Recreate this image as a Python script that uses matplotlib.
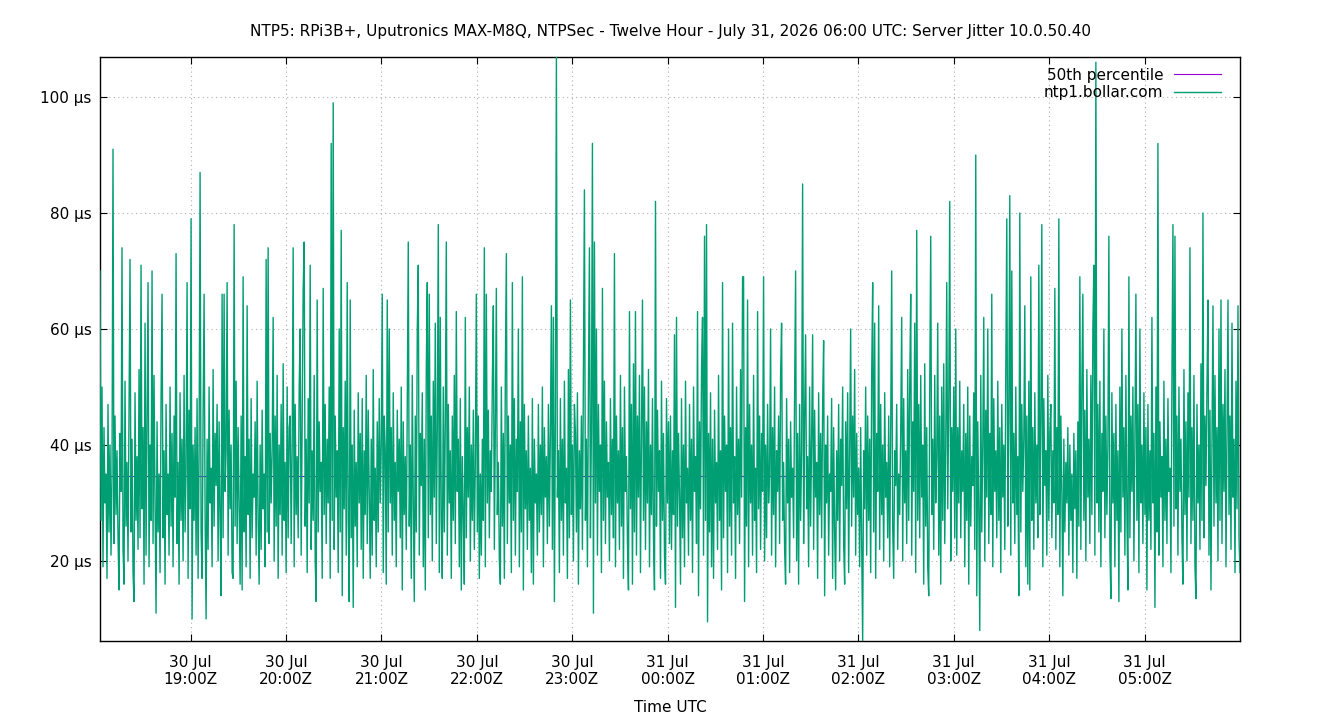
import pandas as pd
import matplotlib
matplotlib.use('Agg')
import matplotlib.pyplot as plt
import matplotlib.dates as mdates

# jitter values (µs), one list per hour of the window
h18 = [70, 27, 50, 19, 43, 30, 35, 17, 47, 25, 40, 21, 35, 91, 23, 45, 28, 39, 24, 15,
       42, 32, 74, 22, 16, 51, 26, 37, 20, 46, 72, 25, 41, 18, 13, 49, 27, 38, 22, 53,
       24, 71, 29, 43, 16, 61, 21, 45, 68, 19, 40, 27, 70, 23, 52, 30, 11, 44, 25, 35,
       18, 48, 66, 24, 39, 16, 47, 28, 35, 21, 50, 26, 42, 19, 45, 31, 73, 23, 37, 16,
       49, 27, 41, 20, 52, 25, 36, 68, 17, 46, 29, 79, 10, 40, 27]
h19 = [43, 21, 48, 17, 39, 87, 25, 17, 45, 66, 28, 10, 41, 22, 50, 30, 36, 19, 53, 26,
       42, 33, 47, 20, 44, 27, 14, 66, 24, 66, 32, 39, 68, 21, 46, 29, 40, 18, 17, 78,
       26, 51, 23, 43, 30, 16, 45, 15, 69, 25, 38, 19, 64, 28, 41, 17, 48, 24, 35, 31,
       44, 21, 51, 27, 16, 40, 22, 46, 29, 35, 19, 72, 25, 74, 23, 42, 30, 39, 62, 20,
       45, 26, 52, 17, 40, 28, 47, 21, 54, 27, 37, 18, 50, 24, 43]
h20 = [45, 23, 40, 74, 19, 47, 28, 38, 24, 50, 60, 21, 43, 67, 75, 26, 41, 18, 48, 30,
       71, 22, 39, 27, 52, 20, 13, 65, 25, 44, 32, 37, 17, 67, 28, 47, 23, 41, 30, 50,
       17, 92, 27, 99, 22, 45, 31, 39, 18, 60, 25, 77, 14, 43, 29, 51, 21, 68, 27, 13,
       65, 24, 40, 12, 46, 26, 37, 19, 49, 30, 42, 22, 48, 17, 39, 28, 52, 23, 46, 32,
       17, 41, 21, 53, 27, 36, 19, 44, 25, 48, 30, 40, 66, 18, 45]
h21 = [39, 16, 65, 25, 60, 30, 43, 21, 49, 27, 37, 19, 46, 32, 41, 24, 50, 15, 44, 28,
       38, 22, 47, 75, 26, 40, 17, 52, 30, 13, 45, 25, 60, 71, 21, 42, 33, 49, 19, 41,
       15, 53, 68, 24, 66, 28, 45, 20, 51, 31, 61, 23, 43, 78, 18, 62, 27, 17, 50, 25,
       44, 75, 21, 47, 30, 39, 17, 45, 27, 52, 23, 63, 32, 41, 19, 48, 15, 38, 28, 16,
       62, 24, 43, 31, 50, 20, 40, 27, 46, 22, 37, 66, 25, 45, 17]
h22 = [35, 21, 41, 27, 74, 19, 66, 30, 46, 24, 39, 32, 51, 64, 22, 43, 67, 28, 37, 20,
       16, 50, 26, 42, 17, 53, 73, 23, 45, 30, 40, 18, 68, 27, 48, 21, 41, 32, 60, 19,
       44, 25, 69, 15, 47, 29, 39, 22, 45, 27, 36, 18, 48, 16, 41, 30, 35, 21, 47, 25,
       40, 28, 50, 19, 43, 31, 38, 23, 47, 26, 42, 64, 22, 62, 13, 45, 107, 31, 39, 18,
       48, 27, 41, 21, 51, 30, 36, 17, 53, 24, 65, 28, 40, 20, 47]
h23 = [42, 25, 49, 16, 39, 29, 45, 22, 53, 84, 27, 41, 19, 50, 74, 24, 43, 92, 11, 75,
       30, 60, 21, 47, 32, 40, 18, 67, 27, 51, 23, 44, 31, 37, 20, 48, 28, 41, 24, 73,
       19, 45, 30, 39, 22, 52, 26, 43, 17, 50, 32, 38, 23, 15, 63, 29, 47, 16, 54, 25,
       63, 21, 45, 31, 52, 18, 41, 65, 27, 50, 22, 44, 30, 53, 19, 40, 28, 48, 24, 15,
       82, 26, 46, 32, 39, 17, 51, 27, 42, 21, 16, 48, 30, 44, 23]
h00 = [45, 22, 39, 28, 59, 12, 62, 26, 42, 31, 16, 48, 24, 40, 19, 51, 30, 36, 21, 47,
       27, 41, 18, 50, 32, 38, 23, 63, 14, 44, 29, 53, 62, 21, 76, 27, 78, 9.5, 42, 25,
       49, 19, 41, 17, 46, 30, 37, 22, 52, 27, 39, 15, 68, 24, 45, 32, 40, 18, 60, 26,
       43, 21, 61, 30, 38, 17, 50, 28, 41, 23, 53, 31, 69, 69, 13, 43, 26, 65, 19, 47,
       30, 40, 21, 52, 27, 36, 18, 63, 29, 45, 22, 42, 32, 69, 20]
h01 = [40, 24, 47, 30, 35, 60, 21, 43, 28, 50, 19, 39, 32, 45, 23, 52, 61, 27, 37, 22,
       16, 48, 30, 41, 18, 44, 31, 36, 24, 49, 70, 20, 42, 16, 47, 27, 39, 85, 23, 45,
       59, 29, 38, 19, 50, 26, 41, 59, 22, 46, 31, 37, 17, 49, 28, 42, 24, 47, 58, 14,
       40, 30, 45, 21, 35, 32, 48, 17, 43, 25, 15, 39, 27, 47, 20, 41, 33, 50, 23, 16,
       44, 29, 49, 18, 40, 60, 26, 45, 31, 53, 21, 42, 28, 36, 19]
h02 = [43, 23, 6, 39, 29, 50, 21, 45, 27, 41, 18, 52, 68, 25, 61, 17, 42, 32, 64, 22,
       47, 28, 40, 20, 49, 31, 37, 24, 45, 19, 43, 70, 26, 17, 39, 33, 47, 22, 35, 28,
       42, 62, 20, 48, 30, 39, 23, 53, 27, 50, 66, 21, 44, 32, 61, 18, 77, 27, 47, 24,
       52, 31, 40, 16, 54, 26, 43, 19, 14, 49, 76, 28, 41, 22, 52, 30, 38, 61, 21, 45,
       16, 50, 27, 54, 23, 40, 68, 29, 47, 82, 20, 43, 32, 50, 24]
h03 = [60, 21, 43, 30, 51, 24, 39, 32, 47, 19, 42, 27, 50, 16, 45, 26, 38, 33, 49, 22,
       90, 14, 44, 29, 8, 52, 25, 40, 62, 20, 46, 31, 60, 23, 42, 28, 66, 19, 48, 32,
       39, 24, 51, 27, 43, 18, 47, 31, 40, 22, 53, 79, 26, 45, 83, 21, 70, 30, 42, 23,
       50, 28, 38, 14, 80, 25, 47, 32, 41, 64, 19, 45, 16, 51, 15, 69, 27, 43, 22, 49,
       30, 40, 24, 71, 28, 44, 78, 19, 48, 33, 39, 21, 52, 27, 42]
h04 = [47, 24, 39, 30, 67, 22, 43, 28, 79, 19, 45, 32, 14, 41, 25, 37, 30, 43, 21, 40,
       27, 35, 18, 42, 29, 39, 17, 44, 26, 69, 22, 50, 66, 27, 46, 20, 53, 31, 41, 23,
       52, 28, 60, 71, 21, 106, 30, 47, 25, 51, 19, 42, 32, 60, 24, 45, 28, 40, 76, 22,
       13.5, 49, 30, 42, 19, 47, 27, 39, 13, 50, 25, 60, 31, 43, 21, 52, 28, 15, 69, 24,
       45, 32, 50, 20, 41, 66, 27, 47, 18, 60, 30, 40, 23, 49, 28]
h05 = [43, 15, 47, 27, 39, 22, 62, 30, 42, 12, 50, 25, 92, 21, 44, 31, 38, 19, 51, 27,
       41, 23, 48, 32, 36, 18, 52, 78, 26, 76, 29, 45, 21, 50, 32, 41, 24, 16, 53, 28,
       44, 20, 49, 31, 74, 23, 43, 27, 52, 19, 13.5, 47, 30, 40, 22, 54, 27, 80, 24, 45,
       33, 50, 65, 21, 46, 15, 41, 64, 26, 52, 30, 43, 20, 60, 27, 65, 23, 47, 32, 53,
       19, 42, 65, 28, 45, 22, 61, 31, 41, 18, 51, 29, 64, 24, 18]

jitter = h18 + h19 + h20 + h21 + h22 + h23 + h00 + h01 + h02 + h03 + h04 + h05
median_us = 34.6

start = pd.Timestamp('2026-07-30 18:03')
end = pd.Timestamp('2026-07-31 06:00')
times = pd.date_range(start, end, periods=len(jitter))
hour_ticks = pd.date_range('2026-07-30 19:00', '2026-07-31 05:00', freq='h')

ytick_vals = [20, 40, 60, 80, 100]
ytick_labels = ['20 µs', '40 µs', '60 µs', '80 µs', '100 µs']

fig = plt.figure(figsize=(13.4, 7.2), dpi=100)
ax = fig.add_axes([100/1340, 1 - 641/720, 1140/1340, 584/720])

l_med, = ax.plot([start, end], [median_us, median_us], color='#9400d3', lw=0.8, zorder=2)
l_jit, = ax.plot(times, jitter, color='#009e73', lw=1.0, zorder=3)

ax.set_xlim(start, end)
ax.set_ylim(6.2, 106.9)
ax.set_yticks(ytick_vals)
ax.set_yticklabels(ytick_labels)
ax.set_xticks(hour_ticks)
ax.xaxis.set_major_formatter(mdates.DateFormatter('%d %b\n%H:%MZ'))

ax.tick_params(direction='in', length=5, width=0.8, top=True, right=True, labelsize=11, pad=6)
ax.tick_params(axis='x', pad=10)
ax.grid(True, color='#b0b0b0', linestyle=(0, (1, 3)), lw=0.8)
for s in ax.spines.values():
    s.set_linewidth(1)

ax.set_title('NTP5: RPi3B+, Uputronics MAX-M8Q, NTPSec - Twelve Hour - July 31, 2026 06:00 UTC: Server Jitter 10.0.50.40',
             fontsize=11, pad=15)
ax.set_xlabel('Time UTC', fontsize=11, labelpad=9)

ax.legend([l_med, l_jit], ['50th percentile', 'ntp1.bollar.com'], loc='upper right',
          bbox_to_anchor=(0.993, 1.0), markerfirst=False, frameon=False, fontsize=11,
          handlelength=3.1, handletextpad=0.7, labelspacing=0.15, borderaxespad=0.3)

plt.savefig('out.png', dpi=100)
